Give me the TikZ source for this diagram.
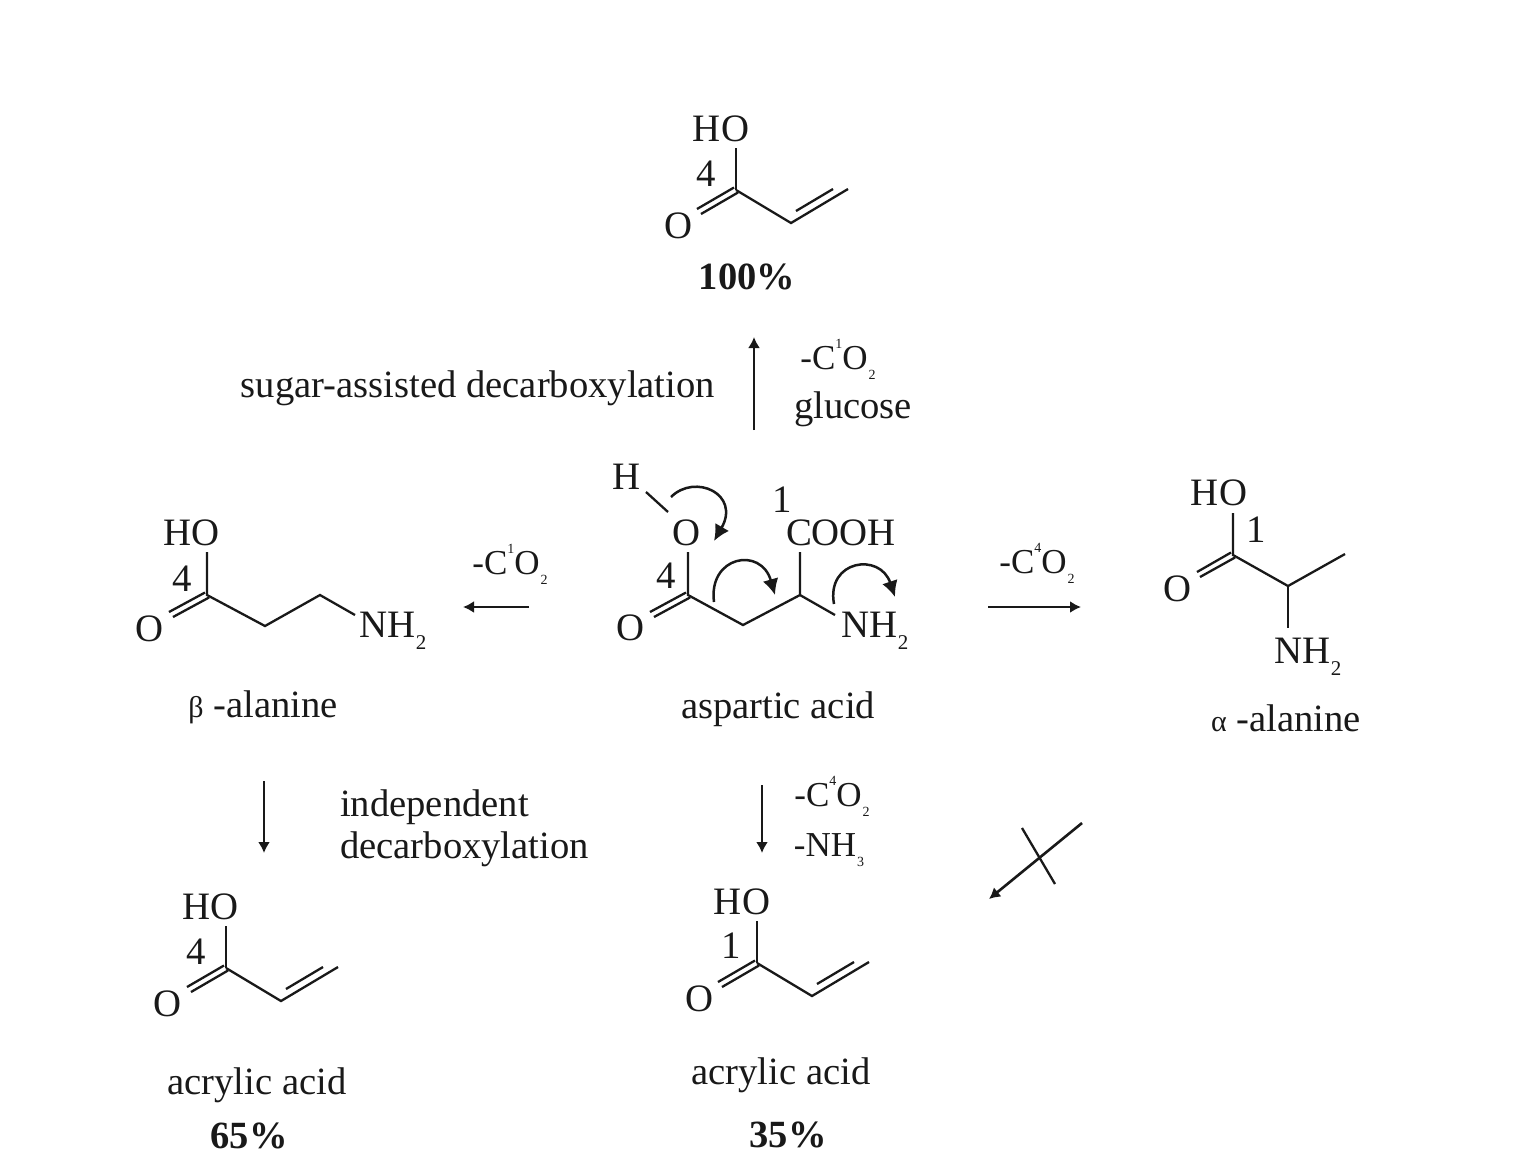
\documentclass[tikz,border=0pt]{standalone}
\usepackage{fontspec}
\setmainfont{Liberation Serif}
\usetikzlibrary{arrows.meta}
\definecolor{ink}{gray}{0.1}
\newcommand{\COtwo}[1]{-C\raisebox{0.6em}{\fontsize{14}{14}\selectfont #1}O\kern1pt\raisebox{-0.28em}{\fontsize{14}{14}\selectfont 2}}
\tikzset{
  atom/.style={inner sep=0pt,text=ink,font=\fontsize{38.8}{38.8}\selectfont},
  lbl/.style={inner sep=0pt,text=ink,yshift=-3pt,font=\fontsize{38.6}{38.6}\selectfont},
  small/.style={inner sep=0pt,text=ink,font=\fontsize{35}{35}\selectfont},
  yield/.style={inner sep=0pt,text=ink,font=\fontsize{38.5}{38.5}\selectfont\bfseries},
  bond/.style={draw=ink,line width=2.3pt},
  rxn/.style={draw=ink,line width=2.6pt,-{Latex[length=11pt,width=12pt]}},
  curly/.style={draw=ink,line width=2.5pt,-{Latex[length=16pt,width=16pt]}},
}
\newcommand{\acrylic}[4]{%
\begin{scope}[shift={(#1,#2)}]
 \node[atom] (#3ho) at (721,129) {HO};
 \node[atom] (#3num) at (#4) {\acrylicnum};
 \node[atom] (#3o) at (678,226) {O};
 \coordinate (#3c) at (736,190);
 \coordinate (#3hoend) at (736,148);
 \coordinate (#3ch) at (791,223);
 \coordinate (#3end) at (848,189);
 \coordinate (#3oa) at (697,209);
 \coordinate (#3ob) at (701,214);
 \coordinate (#3ca) at (734,187.5);
 \coordinate (#3cb) at (738,192.5);
 \coordinate (#3ia) at (796,211);
 \coordinate (#3ib) at (833,189);
 \draw[bond] (#3c) -- (#3hoend);
 \draw[bond] (#3ca) -- (#3oa);
 \draw[bond] (#3cb) -- (#3ob);
 \draw[bond] (#3c) -- (#3ch) -- (#3end);
 \draw[bond] (#3ia) -- (#3ib);
\end{scope}}
\begin{document}
\begin{tikzpicture}[x=1pt,y=-1pt]
\useasboundingbox (0,0) rectangle (1514,1163);
\fill[white] (0,0) rectangle (1514,1163);

% top acrylic acid
\def\acrylicnum{4}
\acrylic{0}{0}{t}{706,174}
\node[yield] (y100) at (747,277) {100\%};
\coordinate (upa) at (754,430);
\coordinate (upb) at (754,337);
\draw[rxn] (upa) -- (upb);
\node[lbl] (sugar) at (478,385) {sugar-assisted decarboxylation};
\node[small] (upl) at (838,359) {\COtwo{1}};
\node[lbl] (gluc) at (853,406) {glucose};

% aspartic acid
\node[atom] (aH) at (627,477) {H};
\node[atom] (aO) at (687,533) {O};
\node[atom] (a4) at (666,576) {4};
\node[atom] (aO2) at (631,628) {O};
\node[atom] (a1) at (782,500) {1};
\node[atom] (aCOOH) at (841,533) {COOH};
\node[atom] (aN) at (875,631) {NH\kern0pt\raisebox{-0.3em}{\fontsize{21}{21}\selectfont 2}};
\node[lbl] (aname) at (778,706) {aspartic acid};
\coordinate (ah1) at (646,492);
\coordinate (ah2) at (668,512);
\coordinate (ao) at (688,552);
\coordinate (ac) at (688,595);
\coordinate (ach2) at (743,625);
\coordinate (ach) at (800,595);
\coordinate (acu) at (800,552);
\coordinate (an) at (835,615);
\coordinate (ad1) at (650,612);
\coordinate (ad2) at (654,617);
\coordinate (ad3) at (686,592.5);
\coordinate (ad4) at (690,597.5);
\draw[bond] (ah1) -- (ah2);
\draw[bond] (ao) -- (ac) -- (ach2) -- (ach) -- (acu);
\draw[bond] (ach) -- (an);
\draw[bond] (ad3) -- (ad1);
\draw[bond] (ad4) -- (ad2);
\coordinate (c1a) at (671,497);
\coordinate (c1b) at (714,541);
\coordinate (c2a) at (714,602);
\coordinate (c2b) at (775,595);
\coordinate (c3a) at (834,604);
\coordinate (c3b) at (895,597);
\draw[curly] (c1a) .. controls (695,473) and (741,494) .. (c1b);
\draw[curly] (c2a) .. controls (708,556) and (761,546) .. (c2b);
\draw[curly] (c3a) .. controls (826,560) and (880,552) .. (c3b);

% beta-alanine
\node[atom] (bho) at (192,533) {HO};
\node[atom] (b4) at (182,579) {4};
\node[atom] (bo) at (150,629) {O};
\node[atom] (bn) at (393,631) {NH\kern0pt\raisebox{-0.3em}{\fontsize{21}{21}\selectfont 2}};
\node[lbl] (bname) at (263,704) {{\fontsize{30}{30}\selectfont β} -alanine};
\coordinate (bh) at (207,552);
\coordinate (bc) at (207,595);
\coordinate (b2) at (265,626);
\coordinate (b3) at (320,595);
\coordinate (bne) at (355,615);
\coordinate (bd1) at (169,612);
\coordinate (bd2) at (173,617);
\coordinate (bd3) at (205,592.5);
\coordinate (bd4) at (209,597.5);
\draw[bond] (bh) -- (bc) -- (b2) -- (b3) -- (bne);
\draw[bond] (bd3) -- (bd1);
\draw[bond] (bd4) -- (bd2);
\coordinate (la) at (529,607);
\coordinate (lb) at (463,607);
\draw[rxn] (la) -- (lb);
\node[small] (ll) at (510,564) {\COtwo{1}};

% alpha-alanine
\node[atom] (gho) at (1219,493) {HO};
\node[atom] (g1) at (1256,530) {1};
\node[atom] (go) at (1177,589) {O};
\node[atom] (gn) at (1308,657) {NH\kern0pt\raisebox{-0.3em}{\fontsize{21}{21}\selectfont 2}};
\node[lbl] (gname) at (1286,715) {{\fontsize{30}{30}\selectfont α} -alanine};
\coordinate (gh) at (1233,513);
\coordinate (gc) at (1233,555);
\coordinate (gch) at (1288,586);
\coordinate (gme) at (1345,554);
\coordinate (gne) at (1288,628);
\coordinate (gd1) at (1197,572);
\coordinate (gd2) at (1200,577);
\coordinate (gd3) at (1231,552.5);
\coordinate (gd4) at (1235,557.5);
\draw[bond] (gh) -- (gc) -- (gch) -- (gme);
\draw[bond] (gch) -- (gne);
\draw[bond] (gd3) -- (gd1);
\draw[bond] (gd4) -- (gd2);
\coordinate (ra) at (988,607);
\coordinate (rb) at (1081,607);
\draw[rxn] (ra) -- (rb);
\node[small] (rl) at (1037,563) {\COtwo{4}};

% lower arrows and labels
\coordinate (d1a) at (264,781);
\coordinate (d1b) at (264,853);
\draw[rxn] (d1a) -- (d1b);
\node[lbl,anchor=west] (ind) at (340,804) {independent};
\node[lbl,anchor=west] (dec) at (340,846) {decarboxylation};
\coordinate (d2a) at (762,785);
\coordinate (d2b) at (762,853);
\draw[rxn] (d2a) -- (d2b);
\node[small] (dl) at (832,796) {\COtwo{4}};
\node[small] (dn) at (829,850) {-NH\kern1pt\raisebox{-0.28em}{\fontsize{14}{14}\selectfont 3}};
\coordinate (xa) at (1082,823);
\coordinate (xb) at (989,899);
\coordinate (xc) at (1022,828);
\coordinate (xd) at (1055,884);
\draw[rxn] (xa) -- (xb);
\draw[bond] (xc) -- (xd);

% lower acrylic acids
\def\acrylicnum{4}
\acrylic{-510}{778}{p}{706,174}
\node[lbl] (pname) at (257,1082) {acrylic acid};
\node[yield] (y65) at (249,1136) {65\%};
\def\acrylicnum{1}
\acrylic{21}{773}{q}{710,173}
\node[lbl] (qname) at (781,1072) {acrylic acid};
\node[yield] (y35) at (788,1135) {35\%};
\end{tikzpicture}
\end{document}
